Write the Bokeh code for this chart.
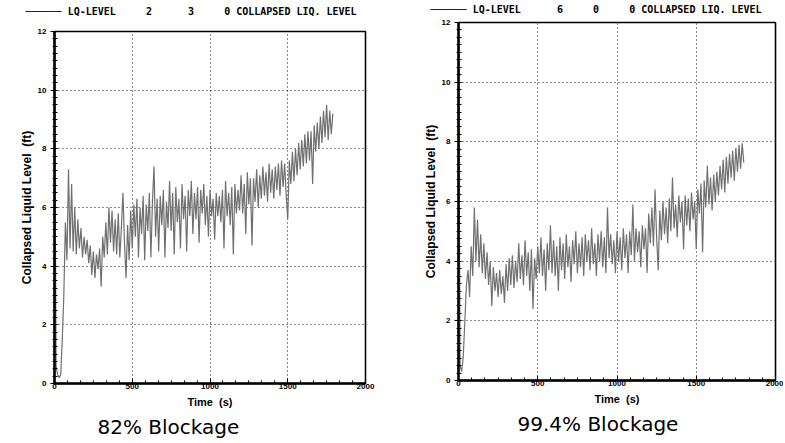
from bokeh.plotting import figure
from bokeh.layouts import row
from bokeh.models import Range1d, SingleIntervalTicker, Title
from bokeh.embed import file_html
from bokeh.resources import INLINE

# ---------------- data ----------------
step_s = 10  # sampling interval of the traces, s

level_82 = [
    12.0, 0.6, 0.3, 0.2, 0.3, 1.5, 3.0, 5.5, 4.2, 7.3,
    4.6, 6.8, 4.5, 6.0, 4.4, 5.6, 4.6, 5.3, 4.3, 5.0,
    4.4, 4.9, 4.1, 4.7, 3.7, 4.5, 3.6, 4.4, 3.9, 4.6,
    3.3, 5.0, 4.3, 5.5, 4.4, 6.0, 4.8, 5.9, 4.5, 5.6,
    4.4, 5.8, 4.3, 5.3, 6.5, 4.8, 3.6, 5.4, 4.2, 5.9,
    4.6, 6.1, 5.0, 6.3, 4.3, 6.0, 5.1, 6.4, 4.2, 6.1,
    5.2, 6.5, 4.3, 6.2, 7.4, 5.0, 6.3, 4.5, 6.4, 5.4,
    6.6, 4.3, 6.2, 5.3, 6.9, 5.2, 6.5, 4.4, 6.7, 5.5,
    6.3, 4.6, 6.8, 5.6, 6.4, 4.5, 6.6, 5.7, 6.9, 5.1,
    6.5, 5.6, 6.7, 4.8, 6.6, 5.8, 6.8, 5.4, 6.4, 5.0,
    6.6, 5.7, 6.3, 4.9, 6.5, 5.7, 6.4, 5.5, 6.6, 4.6,
    6.9, 5.7, 6.5, 5.4, 6.7, 4.4, 6.8, 5.8, 6.6, 5.9,
    7.1, 5.8, 6.8, 5.1, 7.2, 6.1, 7.0, 4.7, 7.0, 6.2,
    7.3, 6.0, 7.1, 6.3, 7.4, 6.4, 7.2, 6.2, 7.5, 6.5,
    7.3, 6.3, 7.4, 6.6, 7.5, 6.4, 7.6, 6.7, 7.5, 6.4,
    5.6, 7.6, 6.8, 7.9, 6.9, 8.0, 7.1, 8.2, 7.3, 8.3,
    7.4, 8.5, 7.5, 8.6, 7.6, 8.6, 6.8, 8.8, 7.9, 8.9,
    8.0, 9.1, 8.2, 9.3, 8.4, 9.5, 8.3, 9.3, 8.5, 9.2,
]

level_994 = [
    12.0, 0.5, 0.3, 0.8, 2.0, 3.2, 3.7, 2.8, 4.5, 3.5,
    5.8, 4.0, 5.4, 3.8, 4.9, 3.6, 4.6, 3.4, 4.3, 3.2,
    4.0, 2.5, 3.8, 3.0, 3.6, 2.8, 3.7, 2.9, 3.5, 2.6,
    3.9, 3.0, 4.1, 3.2, 4.2, 3.1, 4.0, 3.3, 4.6, 3.4,
    4.2, 3.2, 4.7, 3.5, 4.3, 3.0, 4.4, 2.4, 4.1, 3.4,
    4.5, 3.6, 4.8, 3.5, 4.4, 3.0, 4.6, 3.7, 5.2, 3.6,
    4.7, 3.5, 4.5, 3.0, 4.8, 3.7, 4.6, 3.4, 4.9, 3.8,
    4.5, 3.3, 4.7, 3.9, 5.0, 3.6, 4.6, 3.8, 4.8, 3.5,
    4.9, 4.0, 4.7, 3.7, 5.1, 3.9, 4.6, 3.5, 4.9, 4.0,
    5.0, 3.8, 4.8, 3.6, 5.8, 4.1, 4.9, 3.9, 4.7, 3.6,
    5.0, 4.0, 4.8, 3.7, 5.1, 4.1, 4.9, 3.6, 5.0, 4.2,
    5.9, 4.0, 5.1, 4.3, 5.0, 3.8, 5.2, 4.4, 5.1, 3.6,
    5.6, 4.6, 5.8, 4.5, 6.4, 4.8, 3.7, 5.7, 4.7, 6.0,
    4.9, 5.8, 4.6, 6.1, 5.0, 6.8, 5.1, 5.9, 4.8, 6.2,
    5.3, 6.0, 4.4, 6.2, 5.2, 6.1, 5.0, 6.3, 5.4, 6.0,
    4.4, 6.4, 5.6, 6.6, 4.3, 6.7, 5.8, 7.2, 5.9, 6.8,
    5.7, 6.9, 6.0, 7.0, 6.2, 7.2, 6.4, 7.4, 6.3, 7.5,
    6.6, 7.6, 6.8, 7.7, 6.7, 7.8, 7.0, 7.9, 7.1, 7.95,
    7.3,
]

time_82 = [step_s * i for i in range(len(level_82))]
time_994 = [step_s * i for i in range(len(level_994))]

x_ticks_interval = 500
y_ticks_interval = 2
x_limits = (0, 2000)
y_limits = (0, 12)

NB = "\u00a0"
LINE_SAMPLE = "\u2500" * 6
legend_82 = LINE_SAMPLE + NB + "LQ-LEVEL" + NB * 5 + "2" + NB * 6 + "3" + NB * 5 + "0 COLLAPSED LIQ. LEVEL"
legend_994 = LINE_SAMPLE + NB + "LQ-LEVEL" + NB * 6 + "6" + NB * 5 + "0" + NB * 5 + "0 COLLAPSED LIQ. LEVEL"
caption_82 = "82% Blockage"
caption_994 = "99.4% Blockage"
x_label = "Time" + NB * 2 + "(s)"
y_label = "Collapsed Liquid Level" + NB * 2 + "(ft)"


def make_panel(t, lvl, legend_text, caption, cap_offset, leg_offset, leg_gap,
               width, height, b_left, b_right, b_top, b_bottom):
    p = figure(width=width, height=height, output_backend="svg",
               toolbar_location=None, title=None,
               x_range=Range1d(*x_limits), y_range=Range1d(*y_limits),
               min_border_left=b_left, min_border_right=b_right,
               min_border_top=b_top, min_border_bottom=b_bottom,
               background_fill_color="white", border_fill_color="white")
    p.frame_align = False
    p.outline_line_color = "black"
    p.outline_line_width = 1.6

    p.line(t, lvl, line_color="#707070", line_width=1.2)

    for ax in (p.xaxis, p.yaxis):
        ax.axis_line_width = 2.5
        ax.axis_line_color = "black"
        ax.major_tick_line_color = "black"
        ax.minor_tick_line_color = "black"
        ax.major_label_text_font = "Liberation Sans"
        ax.major_label_text_font_style = "bold"
        ax.major_label_text_font_size = "8px"
        ax.major_label_text_color = "black"
        ax.axis_label_text_font = "Liberation Sans"
        ax.axis_label_text_font_style = "bold"
        ax.axis_label_text_color = "black"

    p.xaxis.ticker = SingleIntervalTicker(interval=x_ticks_interval, num_minor_ticks=6)
    p.yaxis.ticker = SingleIntervalTicker(interval=y_ticks_interval, num_minor_ticks=8)

    p.xaxis.major_tick_in = 5
    p.xaxis.major_tick_out = 0
    p.xaxis.minor_tick_in = 3
    p.xaxis.minor_tick_out = 0
    p.xaxis.major_label_standoff = 0
    p.xaxis.axis_label = x_label
    p.xaxis.axis_label_text_font_size = "11px"
    p.xaxis.axis_label_standoff = 4

    p.yaxis.major_tick_in = 3
    p.yaxis.major_tick_out = 4
    p.yaxis.minor_tick_in = 3
    p.yaxis.minor_tick_out = 2
    p.yaxis.major_label_standoff = 4
    p.yaxis.axis_label = y_label
    p.yaxis.axis_label_text_font_size = "12px"
    p.yaxis.axis_label_standoff = 1

    for g in (p.xgrid, p.ygrid):
        g.grid_line_color = "black"
        g.grid_line_dash = "1 3"
        g.grid_line_width = 1
        g.grid_line_alpha = 0.9

    # spacer between frame and the legend line (pushes the legend text upward)
    p.add_layout(Title(text=NB, text_font_size="1px", standoff=leg_gap), "above")
    p.add_layout(Title(text=legend_text, align="left", offset=leg_offset,
                       vertical_align="bottom",
                       text_font="DejaVu Sans Mono", text_font_size="10px",
                       text_font_style="bold", text_color="black",
                       standoff=0), "above")
    p.add_layout(Title(text=caption, align="left", offset=cap_offset,
                       text_font="DejaVu Sans", text_font_size="20px",
                       text_font_style="normal", text_color="black",
                       standoff=4), "below")
    return p


p1 = make_panel(time_82, level_82, legend_82, caption_82, 43, -29, 12,
                405, 443, 54, 40, 31, 60)
p2 = make_panel(time_994, level_994, legend_994, caption_994, 59, -28, 5,
                378, 443, 53, 8, 22, 63)

layout = row(p1, p2, spacing=0)
open("out.html", "w").write(file_html(layout, INLINE))
